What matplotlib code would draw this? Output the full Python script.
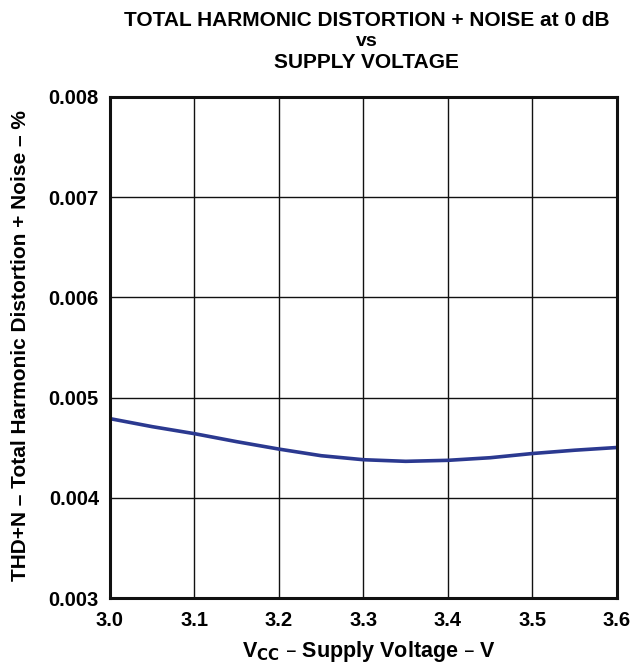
import matplotlib
matplotlib.use("Agg")
import matplotlib.pyplot as plt

vcc = [3.0, 3.05, 3.1, 3.15, 3.2, 3.25, 3.3, 3.35, 3.4, 3.45, 3.5, 3.55, 3.6]
thdn = [0.00479, 0.00471, 0.00464, 0.00456, 0.004486, 0.00442, 0.00438, 0.004364,
        0.004374, 0.00440, 0.004442, 0.004475, 0.004502]
xticks = [3.0, 3.1, 3.2, 3.3, 3.4, 3.5, 3.6]
xticklabels = ["3.0", "3.1", "3.2", "3.3", "3.4", "3.5", "3.6"]
yticks = [0.003, 0.004, 0.005, 0.006, 0.007, 0.008]
yticklabels = ["0.003", "0.004", "0.005", "0.006", "0.007", "0.008"]

plt.rcParams['font.family'] = ['Liberation Sans', 'DejaVu Sans']
plt.rcParams['font.weight'] = 'bold'

W, H = 631, 665
fig = plt.figure(figsize=(W / 100, H / 100), dpi=100)
left, right, top, bottom = 110, 617, 97, 598
ax = fig.add_axes([left / W, 1 - bottom / H, (right - left) / W, (bottom - top) / H])

ax.plot(vcc, thdn, color='#2B3990', linewidth=2.6, solid_capstyle='butt')
ax.set_xlim(3.0, 3.6)
ax.set_ylim(0.003, 0.008)
ax.set_xticks(xticks)
ax.set_xticklabels(xticklabels, fontsize=14.5, fontweight='bold')
ax.set_yticks(yticks)
ax.set_yticklabels(yticklabels, fontsize=14.5, fontweight='bold')
ax.tick_params(axis='x', length=0, pad=9)
ax.tick_params(axis='y', length=0, pad=8)
ax.grid(True, color='#111111', linewidth=1.0)
for s in ax.spines.values():
    s.set_linewidth(2.2)
    s.set_color('#111111')

fig.text(242 / W, 1 - 651 / H, "V$_{\\mathbf{CC}}$ – Supply Voltage – V", fontsize=15.5,
         fontweight='bold', ha='left', va='center')
fig.text(21 / W, 1 - 346 / H, "THD+N – Total Harmonic Distortion + Noise – %", fontsize=15,
         fontweight='bold', rotation=90, ha='center', va='center')
fig.text(366.5 / W, 1 - 21 / H, "TOTAL HARMONIC DISTORTION + NOISE at 0 dB", fontsize=15,
         fontweight='bold', ha='center', va='center')
fig.text(366.5 / W, 1 - 42 / H, "vs", fontsize=14,
         fontweight='bold', ha='center', va='center')
fig.text(366.5 / W, 1 - 63 / H, "SUPPLY VOLTAGE", fontsize=15,
         fontweight='bold', ha='center', va='center')

fig.savefig("out.png", dpi=100)
